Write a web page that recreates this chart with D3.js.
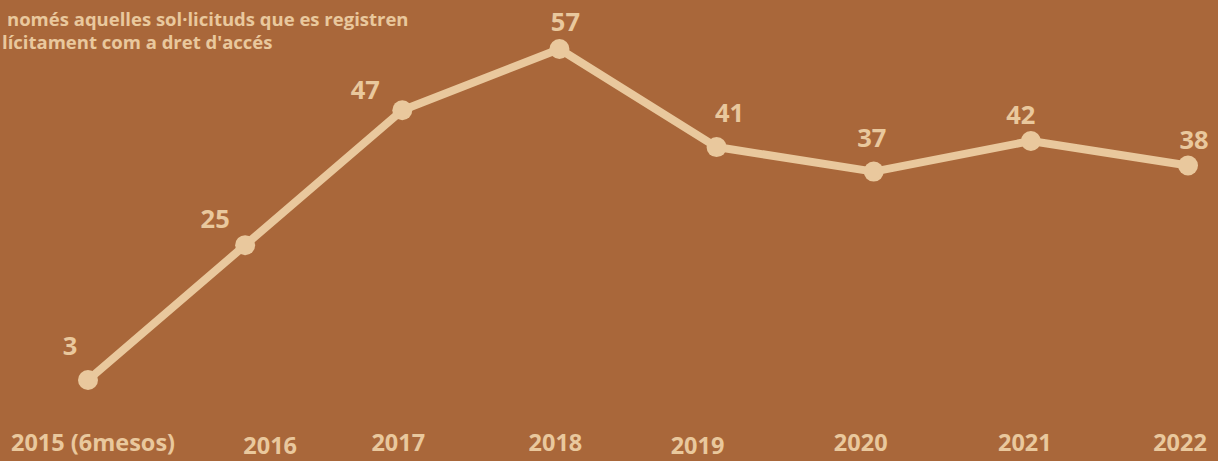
<!DOCTYPE html>
<html><head><meta charset="utf-8">
<script src="https://cdn.jsdelivr.net/npm/d3@7"></script>
<style>
html,body{margin:0;padding:0;background:#A9673A;overflow:hidden}
svg{display:block}
text{font-family:"Open Sans",sans-serif;font-weight:700;fill:#E9C89D}
</style></head><body>
<svg id="c" width="1218" height="461"></svg>
<script>
const categories = ["2015 (6mesos)","2016","2017","2018","2019","2020","2021","2022"];
const values = [3,25,47,57,41,37,42,38];
// label offsets (style/placement only)
const valueLabelOffsets = [[-18,-34],[-30,-26],[-37,-20],[6,-27],[13,-34],[-2,-34],[-10,-26],[6,-25]];
const tickLabelOffsets = [[5,0],[25,3],[-4,0],[-4,0],[-19,3],[-13,0],[-6,0],[-8,0]];
const noteLines = ["només aquelles sol·licituds que es registren","lícitament com a dret d'accés"];

const W=1218,H=461;
const svg=d3.select("#c");
const x=d3.scalePoint().domain(categories).range([88,1188]);
const y=d3.scaleLinear().domain([0,57]).range([398.4,49]);
const color="#E9C89D";

const line=d3.line().x((d,i)=>x(categories[i])).y(d=>y(d));
svg.append("path").datum(values).attr("d",line).attr("fill","none")
  .attr("stroke",color).attr("stroke-width",8).attr("stroke-linejoin","round");
svg.selectAll("circle.pt").data(values).join("circle").attr("class","pt")
  .attr("cx",(d,i)=>x(categories[i])).attr("cy",d=>y(d)).attr("r",10).attr("fill",color);
svg.selectAll("text.val").data(values).join("text").attr("class","val")
  .attr("x",(d,i)=>x(categories[i])+valueLabelOffsets[i][0])
  .attr("y",(d,i)=>y(d)+valueLabelOffsets[i][1]+9)
  .attr("text-anchor","middle").style("font-size","25.5px").text(d=>d);
svg.selectAll("text.cat").data(categories).join("text").attr("class","cat")
  .attr("x",(d,i)=>x(d)+tickLabelOffsets[i][0])
  .attr("y",(d,i)=>451+tickLabelOffsets[i][1])
  .attr("text-anchor","middle").style("font-size","23.5px").text(d=>d);
svg.append("text").attr("x",7).attr("y",26).style("font-size","18.5px").text(noteLines[0]);
svg.append("text").attr("x",2).attr("y",49).style("font-size","18.5px").text(noteLines[1]);
</script></body></html>
